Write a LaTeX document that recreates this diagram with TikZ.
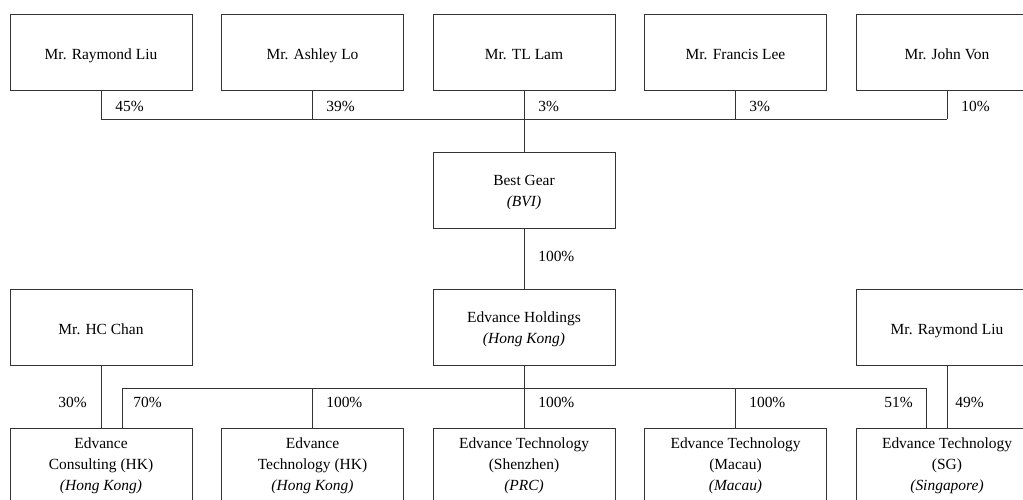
\documentclass[tikz,border=0pt]{standalone}
\usepackage{fontspec}
\setmainfont{Liberation Serif}
\tikzset{
	box/.style={draw=black!80, line width=0.6pt, minimum width=4.55cm, minimum height=1.9cm,
		align=center, inner sep=0pt, font=\fontsize{11}{15}\selectfont},
	onebox/.style={box, text height=2.6ex, text depth=0.4ex},
	pct/.style={inner sep=0pt, text height=1.6ex, text depth=0.3ex, font=\fontsize{11}{15}\selectfont},
	link/.style={draw=black!80, line width=0.6pt}
}
\begin{document}
\begin{tikzpicture}[x=0.025cm, y=-0.025cm]
				\useasboundingbox (0,0) rectangle (1023,499);
				\clip (0,0) rectangle (1023,499);
				
				% owners (top row)
				\foreach \x/\y/\t in
				{liu/0/Mr. Raymond Liu, lo/1/Mr. Ashley Lo, lam/2/Mr. TL Lam, lee/3/Mr. Francis Lee, von/4/Mr. John Von}{
					\node[onebox] (\x) at (101+211.5*\y,52) {\t};
				}
				
				% middle
				\node[box] (gear) at (524,190) {\rule{0pt}{11.5pt}Best Gear\\\textit{(BVI)}};
				\node[box] (holdings) at (524,327) {\rule{0pt}{10.5pt}Edvance Holdings\\\textit{(Hong Kong)}};
				\node[onebox] (chan) at (101,327) {Mr. HC Chan};
				\node[onebox] (liu2) at (947,327) {Mr. Raymond Liu};
				
				% subsidiaries (bottom row)
				\foreach \x/\y/\t in
				{consult/0/{Edvance\\Consulting (HK)\\\textit{(Hong Kong)}},
				 techhk/1/{Edvance\\Technology (HK)\\\textit{(Hong Kong)}},
				 techsz/2/{Edvance Technology\\(Shenzhen)\\\textit{(PRC)}},
				 techmo/3/{Edvance Technology\\(Macau)\\\textit{(Macau)}},
				 techsg/4/{Edvance Technology\\(SG)\\\textit{(Singapore)}}}{
					\node[box] (\x) at (101+211.5*\y,466) {\t};
				}
				
				% top bus
				\coordinate (topbus) at (524,119);
				\foreach \x in {liu,lo,lam,lee,von}{
					\draw[link] (\x.south) -- (\x.south |- topbus);
				}
				\draw[link] (liu.south |- topbus) -- (von.south |- topbus);
				\draw[link] (topbus) -- (gear.north);
				\draw[link] (gear.south) -- (holdings.north);
				
				% bottom bus
				\coordinate (c70) at (122,388);
				\coordinate (c51) at (926,388);
				\draw[link] (c70) -- (c51);
				\draw[link] (c70) -- (c70 |- consult.north);
				\draw[link] (c51) -- (c51 |- techsg.north);
				\foreach \x in {techhk,techmo}{
					\draw[link] (\x.north |- c70) -- (\x.north);
				}
				\draw[link] (holdings.south) -- (techsz.north);
				\draw[link] (chan.south) -- (consult.north);
				\draw[link] (liu2.south) -- (techsg.north);
				
				% shares (top)
				\foreach \x/\y/\t in
				{p45/115/45, p39/326/39, p3a/538/3, p3b/749/3, p10/961/10}{
					\node[pct, anchor=west] (\x) at (\y,107) {\t\%};
				}
				\node[pct, anchor=west] (p100g) at (538,257) {100\%};
				
				% shares (bottom)
				\node[pct, anchor=east] (p30) at (87,403) {30\%};
				\node[pct, anchor=east] (p51) at (913,403) {51\%};
				\foreach \x/\y/\t in
				{p70/133/70, p100a/326/100, p100b/538/100, p100c/749/100, p49/955/49}{
					\node[pct, anchor=west] (\x) at (\y,403) {\t\%};
				}
			\end{tikzpicture}
\end{document}
